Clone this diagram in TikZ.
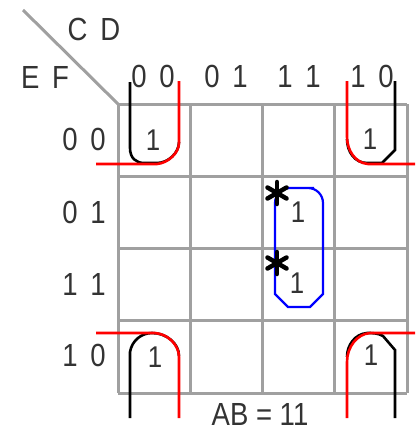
\documentclass[tikz,border=0pt]{standalone}
\usepackage{fontspec}
\setmainfont{Liberation Sans}
\newfontfamily\narrowf[FakeStretch=0.86]{Liberation Sans}
\newcommand\gp{\hspace{0.4em}}
\definecolor{gridgray}{RGB}{160,160,160}
\begin{document}
\begin{tikzpicture}[x=1pt,y=-1pt,
  lbl/.style={inner sep=0pt,text=black!80,font=\narrowf\fontsize{32}{36}\selectfont},
  one/.style={inner sep=0pt,text=black!80,font=\narrowf\fontsize{30}{34}\selectfont},
  gridline/.style={draw=gridgray,line width=3pt},
  blk/.style={draw=black,line width=2.6pt},
  redl/.style={draw=red,line width=2.6pt},
  bluel/.style={draw=blue,line width=2.2pt},
  starl/.style={draw=black,line width=4.5pt,line cap=round}]
\useasboundingbox (0,0) rectangle (415,431);
% diagonal and grid
\coordinate (dg) at (23,10);
\coordinate (g0) at (118,104);
\draw[gridline] (dg) -- (g0);
\foreach \i in {0,...,4}{
  \draw[gridline] ({118+72.25*\i},104) -- ({118+72.25*\i},393);
  \draw[gridline] (118,{104+72.25*\i}) -- (407,{104+72.25*\i});
}
% labels
\node[lbl] (cd) at (94,29) {C\gp D};
\node[lbl] (ef) at (45,77) {E\gp F};
\node[lbl] (c00) at (153,76) {0\gp 0};
\node[lbl] (c01) at (226,76) {0\gp 1};
\node[lbl] (c11) at (299,76) {1\gp 1};
\node[lbl] (c10) at (372,76) {1\gp 0};
\node[lbl] (r00) at (84,139) {0\gp 0};
\node[lbl] (r01) at (84,212) {0\gp 1};
\node[lbl] (r11) at (84,284) {1\gp 1};
\node[lbl] (r10) at (84,355) {1\gp 0};
\node[lbl] (ab) at (260,414) {AB = 11};
% ones
\node[one] (m1) at (153,140) {1};
\node[one] (m2) at (370,139) {1};
\node[one] (m3) at (155,357) {1};
\node[one] (m4) at (371,355) {1};
\node[one] (m5) at (298,212) {1};
\node[one] (m6) at (297,283) {1};
% top-left loops
\draw[blk] (130,82) -- (130,148) .. controls (130,158) and (136,163) .. (144,163) -- (157,163) .. controls (168,163) and (179,153) .. (179,142);
\draw[redl] (179,81) -- (179,143) .. controls (179,153) and (168,163) .. (157,164) -- (96,164);
% top-right loops
\draw[blk] (395,81) -- (395,150) -- (382,163) -- (367,163) .. controls (355,163) and (347,152) .. (347,139);
\draw[redl] (347,81) -- (347,137) .. controls (347,150) and (355,163) .. (368,164) -- (415,164);
% bottom-left loops
\draw[blk] (130,418) -- (130,352) .. controls (132,340) and (142,333) .. (152,333) .. controls (166,333) and (179,343) .. (179,356);
\draw[redl] (96,333) -- (155,333) .. controls (168,334) and (179,345) .. (179,357) -- (179,418);
% bottom-right loops
\draw[blk] (395,418) -- (395,350) -- (383,336) .. controls (378,333) and (372,333) .. (367,333) .. controls (355,334) and (347,345) .. (347,357);
\draw[redl] (415,333) -- (370,333) .. controls (357,334) and (347,347) .. (347,362) -- (347,418);
% blue loop
\draw[bluel] (275,294) -- (275,250) [rounded corners=15pt] |- (299,188) -| (323,250) [sharp corners] -- (323,294) -- (310,307) -- (288,307) -- cycle;
% stars
\foreach \sx/\sy in {277/193,277/263}{
  \begin{scope}[shift={(\sx,\sy)}]
    \draw[starl] (0,-11) -- (0,11);
    \draw[starl] (-9.5,-5.5) -- (9.5,5.5);
    \draw[starl] (-9.5,5.5) -- (9.5,-5.5);
  \end{scope}
}
\end{tikzpicture}
\end{document}
